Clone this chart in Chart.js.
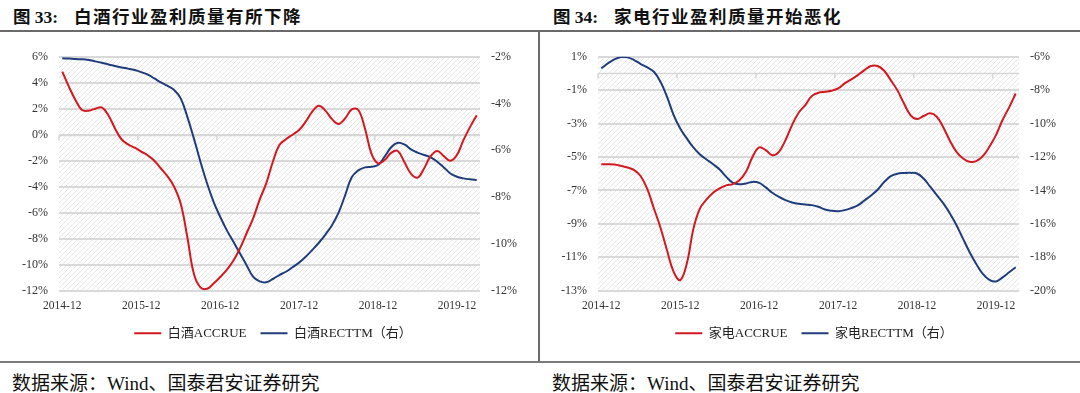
<!DOCTYPE html>
<html>
<head>
<meta charset="utf-8">
<script src="https://cdn.jsdelivr.net/npm/chart.js@4.4.1/dist/chart.umd.min.js"></script>
<style>
  body { margin: 0; width: 1080px; height: 393px; background: #fff; position: relative; overflow: hidden;
         font-family: 'Liberation Serif', 'Noto Sans CJK SC', serif; color: #111; }
  .title { position: absolute; top: 3px; font-size: 17.5px; font-weight: bold; white-space: nowrap; }
  .title.cn { letter-spacing: 1.5px; }
  .src { position: absolute; top: 368px; font-size: 19px; white-space: nowrap; }
  .rule { position: absolute; background: #6a6a6a; }
  canvas { position: absolute; top: 32px; }
</style>
</head>
<body>
<div class="title" style="left:13px">图 33:</div>
<div class="title cn" style="left:74px">白酒行业盈利质量有所下降</div>
<div class="title" style="left:553px">图 34:</div>
<div class="title cn" style="left:614px">家电行业盈利质量开始恶化</div>
<div class="rule" style="left:0;top:30px;width:1080px;height:2px"></div>
<div class="rule" style="left:538px;top:31px;width:2px;height:331px"></div>
<div class="rule" style="left:0;top:361px;width:1080px;height:2px;background:#7a7a7a"></div>
<canvas id="c1" width="538" height="328" style="left:0"></canvas>
<canvas id="c2" width="540" height="328" style="left:540px"></canvas>
<div class="src" style="left:12px">数据来源：Wind、国泰君安证券研究</div>
<div class="src" style="left:552px">数据来源：Wind、国泰君安证券研究</div>
<script>
// monthly, 2014-12 .. 2020-03
const months = [];
for (let y = 2014, m = 12; months.length < 64; m++) {
  if (m > 12) { m = 1; y++; }
  months.push(y + '-' + String(m).padStart(2, '0'));
}
const tickLabels = ['2014-12', '2015-12', '2016-12', '2017-12', '2018-12', '2019-12'];

// 白酒 (%)
const baijiuAccrue = [4.85, 3.7, 2.67, 1.9, 1.85, 2.0, 2.1, 1.5, 0.5, -0.35,
  -0.75, -1.0, -1.3, -1.6, -2.0, -2.6, -3.2, -4.0, -5.3, -7.85,
  -10.7, -11.75, -11.85, -11.45, -10.95, -10.4, -9.7, -8.75, -7.6, -6.45,
  -5.0, -3.75, -2.1, -0.8, -0.35, 0.0, 0.36, 1.0, 1.77, 2.23,
  1.85, 1.2, 0.82, 1.25, 1.95, 1.9, 0.5, -1.45, -2.2, -1.95,
  -1.4, -1.25, -2.1, -3.0, -3.3, -2.6, -1.65, -1.25, -1.65, -2.0,
  -1.55, -0.4, 0.6, 1.5];
const baijiuRecttm = [-2.07, -2.08, -2.1, -2.11, -2.14, -2.2, -2.26, -2.33, -2.4, -2.46,
  -2.51, -2.57, -2.66, -2.77, -2.93, -3.1, -3.25, -3.42, -3.78, -4.56,
  -5.49, -6.49, -7.41, -8.2, -8.84, -9.41, -9.9, -10.4, -10.9, -11.4,
  -11.6, -11.64, -11.5, -11.33, -11.19, -11.0, -10.8, -10.55, -10.26, -9.95,
  -9.6, -9.2, -8.66, -7.92, -7.15, -6.86, -6.73, -6.7, -6.63, -6.27,
  -5.87, -5.68, -5.75, -5.96, -6.1, -6.2, -6.3, -6.49, -6.73, -6.99,
  -7.13, -7.2, -7.24, -7.27];

// 家电 (%)
const jiadianAccrue = [-5.43, -5.43, -5.45, -5.53, -5.63, -5.79, -6.15, -6.93, -8.08, -9.23,
  -10.6, -11.87, -12.37, -11.38, -9.3, -8.08, -7.54, -7.14, -6.88, -6.7,
  -6.62, -6.39, -5.89, -4.99, -4.43, -4.59, -4.89, -4.69, -3.99, -3.09,
  -2.35, -1.9, -1.36, -1.16, -1.1, -1.04, -0.9, -0.6, -0.36, -0.1,
  0.2, 0.44, 0.44, 0.16, -0.4, -1.0, -1.79, -2.49, -2.73, -2.55,
  -2.39, -2.59, -3.23, -4.03, -4.69, -5.09, -5.29, -5.25, -4.95, -4.39,
  -3.69, -2.79, -2.03, -1.2];
const jiadianRecttm = [-6.7, -6.4, -6.16, -6.02, -6.04, -6.2, -6.44, -6.64, -6.9, -7.5,
  -8.4, -9.49, -10.29, -10.89, -11.43, -11.85, -12.15, -12.43, -12.75, -13.19,
  -13.55, -13.63, -13.58, -13.49, -13.55, -13.82, -14.14, -14.38, -14.58, -14.72,
  -14.8, -14.84, -14.88, -14.98, -15.14, -15.22, -15.24, -15.18, -15.06, -14.9,
  -14.6, -14.3, -13.96, -13.5, -13.15, -13.0, -12.96, -12.95, -12.99, -13.29,
  -13.78, -14.28, -14.78, -15.38, -16.08, -16.9, -17.7, -18.4, -19.0, -19.35,
  -19.45, -19.2, -18.9, -18.6];

const RED = '#d3181f';
const BLUE = '#1f3d7c';
const FONT = "'Liberation Serif', 'Noto Sans CJK SC', serif";

// light diagonal hatch behind the plot area
const hatch = document.createElement('canvas');
hatch.width = hatch.height = 5;
(function () {
  const g = hatch.getContext('2d');
  g.strokeStyle = '#e6e6e6';
  g.lineWidth = 1;
  g.beginPath();
  g.moveTo(0, 5); g.lineTo(5, 0);
  g.moveTo(-1, 1); g.lineTo(1, -1);
  g.moveTo(4, 6); g.lineTo(6, 4);
  g.stroke();
})();

const plotBg = {
  id: 'plotBg',
  beforeDraw(chart) {
    const { ctx, chartArea: a } = chart;
    ctx.save();
    ctx.fillStyle = ctx.createPattern(hatch, 'repeat');
    ctx.fillRect(a.left, a.top, a.width, a.height);
    ctx.restore();
  }
};

// excel-style category axis crossing at 0
const zeroAxis = {
  id: 'zeroAxis',
  beforeDatasetsDraw(chart) {
    const { ctx, chartArea: a, scales: { x, y } } = chart;
    const y0 = Math.round(y.getPixelForValue(0)) + 0.5;
    ctx.save();
    ctx.strokeStyle = '#d6d6d6';
    ctx.lineWidth = 1.5;
    ctx.beginPath();
    ctx.moveTo(a.left, y0); ctx.lineTo(a.right, y0);
    for (let i = 0; i < months.length; i += 12) {
      const px = i === 0 ? a.left : (x.getPixelForValue(i - 1) + x.getPixelForValue(i)) / 2;
      ctx.moveTo(px, y0); ctx.lineTo(px, y0 + 5);
    }
    ctx.stroke();
    ctx.restore();
  }
};

function makeChart(id, name, accrue, recttm, yr, y1r, leftW, rightW) {
  const tickFont = { family: FONT, size: 12 };
  new Chart(document.getElementById(id), {
    type: 'line',
    data: {
      labels: months,
      datasets: [
        { label: name + 'ACCRUE', data: accrue, yAxisID: 'y',
          borderColor: RED, backgroundColor: RED, borderWidth: 2, pointRadius: 0, tension: 0.4 },
        { label: name + 'RECTTM（右）', data: recttm, yAxisID: 'y1',
          borderColor: BLUE, backgroundColor: BLUE, borderWidth: 2, pointRadius: 0, tension: 0.4 }
      ]
    },
    options: {
      responsive: false,
      animation: false,
      layout: { padding: { top: 24.7, bottom: 10.3, left: 8, right: 0 } },
      plugins: {
        tooltip: { enabled: false },
        legend: {
          position: 'bottom',
          labels: {
            usePointStyle: true, pointStyle: 'line', pointStyleWidth: 27,
            padding: 14, color: '#222', font: { family: FONT, size: 13 }
          }
        }
      },
      scales: {
        x: {
          offset: true,
          grid: { display: false, drawTicks: false },
          border: { display: false },
          ticks: {
            autoSkip: false, maxRotation: 0, padding: 8, color: '#333', font: { family: FONT, size: 11.5 },
            callback: (v, i) => tickLabels.includes(months[i]) ? months[i] : ''
          },
          afterFit: s => { s.height = 22; }
        },
        y: {
          position: 'left', min: yr[0], max: yr[1],
          grid: { color: '#d9d9d9', lineWidth: 2, drawTicks: false },
          border: { display: false },
          ticks: { stepSize: 2, padding: 11, color: '#333', font: tickFont, callback: v => v + '%' },
          afterFit: s => { s.width = leftW - 8; }
        },
        y1: {
          position: 'right', min: y1r[0], max: y1r[1],
          grid: { display: false, drawTicks: false },
          border: { display: false },
          ticks: { stepSize: 2, padding: 11, color: '#333', font: tickFont, callback: v => v + '%' },
          afterFit: s => { s.width = rightW; }
        }
      }
    },
    plugins: [plotBg, zeroAxis]
  });
}

makeChart('c1', '白酒', baijiuAccrue, baijiuRecttm, [-12, 6], [-12, -2], 59, 58);
makeChart('c2', '家电', jiadianAccrue, jiadianRecttm, [-13, 1], [-20, -6], 58, 61);
</script>
</body>
</html>
